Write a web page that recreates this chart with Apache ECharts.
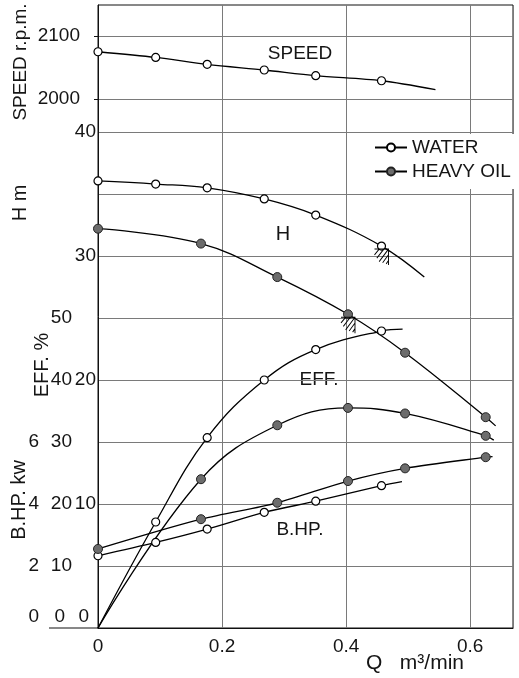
<!DOCTYPE html>
<html>
<head>
<meta charset="utf-8">
<script src="https://cdn.jsdelivr.net/npm/echarts@6/dist/echarts.min.js"></script>
<style>
html,body{margin:0;padding:0;background:#fff;}
#chart{width:519px;height:678px;}
</style>
</head>
<body>
<div id="chart"></div>
<script>
// ---- data ----
const qWater = [0, 0.093, 0.176, 0.268, 0.351, 0.457];
const qOil = [0, 0.166, 0.289, 0.403, 0.495, 0.625];

const speedWater = [2075, 2066, 2055, 2046, 2037, 2029];
const speedWaterTail = [0.544, 2015];

const hWater = [36.05, 35.8, 35.5, 34.6, 33.3, 30.8];
const hWaterTail = [0.526, 28.3];
const hOil = [32.2, 31.0, 28.3, 25.3, 22.2, 17.0];
const hOilTail = [0.641, 16.3];

const effWater = [0, 17.1, 30.7, 40.0, 44.9, 47.9];   // first value = origin, no marker
const effWaterTail = [0.491, 48.2];
const effOil = [0, 24.0, 32.7, 35.5, 34.6, 31.0];     // first value = origin, no marker
const effOilTail = [0.638, 30.3];

const bhpWater = [2.33, 2.76, 3.19, 3.73, 4.09, 4.59];
const bhpWaterTail = [0.49, 4.72];
const bhpOil = [2.55, 3.51, 4.04, 4.74, 5.15, 5.51];
const bhpOilTail = [0.636, 5.53];

const xTicks = [0, 0.2, 0.4, 0.6];
const hTicks = [0, 10, 20, 30, 40];
const hGridLines = [30, 35, 40];
const effTicks = [0, 10, 20, 30, 40, 50];
const bhpTicks = [0, 2, 4, 6];
const speedTicks = [2000, 2100];
const seriesNames = ['WATER', 'HEAVY OIL'];

// ---- layout / style ----
const FONT = "'Liberation Sans', Arial, sans-serif";
const TXT = '#151515';
const GRIDC = '#7a7a7a';
const X_MAX = 0.669;
const H_MAX = 50.24;

function build(qs, vals, tail, hideFirst) {
  const d = qs.map((q, i) => {
    const it = { value: [q, vals[i]] };
    if (hideFirst && i === 0) it.symbol = 'none';
    return it;
  });
  if (tail) d.push({ value: tail, symbol: 'none' });
  return d;
}

const waterStyle = {
  symbol: 'circle', symbolSize: 8,
  itemStyle: { color: '#fff', borderColor: '#000', borderWidth: 1.2 },
  lineStyle: { color: '#000', width: 1.3 }
};
const oilStyle = {
  symbol: 'circle', symbolSize: 9,
  itemStyle: { color: '#6c6c6c', borderColor: '#222', borderWidth: 1 },
  lineStyle: { color: '#000', width: 1.3 }
};

const hatch = 'path://M0,0 L12,0 L12,14 M4,0 L0,5 M8,0 L2,8 M12,0 L4,11 M12,5 L7,12 M12,10 L10,13';
function hatchMark(q, v) {
  return {
    symbol: hatch, symbolSize: [14, 16], symbolOffset: [0, 11], silent: true,
    itemStyle: { color: 'none', borderColor: '#000', borderWidth: 1 },
    label: { show: false },
    data: [{ coord: [q, v] }]
  };
}

function hiddenX(gi) {
  return { type: 'value', gridIndex: gi, min: 0, max: X_MAX, show: false };
}
function tickFmt(list, zeroUp) {
  return v => {
    if (!list.some(t => Math.abs(t - v) < 1e-9)) return '';
    if (zeroUp && Math.abs(v) < 1e-9) return '{z|0}';
    return String(v);
  };
}
function zeroRich(padRight) {
  return { z: { fontFamily: FONT, fontSize: 19, color: TXT, padding: [0, padRight, 22, 0] } };
}

const grids = [
  { left: 98, right: 6, top: 5, bottom: 50, show: true, borderColor: '#111', borderWidth: 1 },
  { left: 98, right: 6, top: 318, bottom: 50 },
  { left: 98, right: 6, top: 442, bottom: 50 },
  { left: 98, right: 6, top: 36, bottom: 579 },
  { left: 98, right: 6, top: 132, bottom: 422 }
].map(g => Object.assign({ outerBoundsMode: 'none', containLabel: false }, g));

const labelStyle = { color: TXT, fontFamily: FONT, fontSize: 19 };
const titleFont = '19px ' + FONT;

const option = {
  animation: false,
  backgroundColor: '#fff',
  textStyle: { fontFamily: FONT },
  grid: grids,
  legend: {
    orient: 'vertical', left: 366, top: 134,
    padding: [4, 6, 8, 8], itemGap: 5,
    itemWidth: 32, itemHeight: 10,
    backgroundColor: '#fff',
    data: seriesNames,
    textStyle: { color: TXT, fontFamily: FONT, fontSize: 19, lineHeight: 19 },
    selectedMode: false
  },
  xAxis: [
    {
      type: 'value', gridIndex: 0, min: 0, max: X_MAX, interval: 0.2,
      axisLine: { lineStyle: { color: '#111', width: 1 } },
      axisTick: { show: false },
      axisLabel: Object.assign({ margin: 9, showMaxLabel: false, formatter: tickFmt(xTicks, false) }, labelStyle),
      splitLine: { show: true, lineStyle: { color: GRIDC, width: 1 } }
    },
    hiddenX(1), hiddenX(2), hiddenX(3), hiddenX(4)
  ],
  yAxis: [
    { // H m (plot left edge)
      type: 'value', gridIndex: 0, min: 0, max: H_MAX, interval: 10,
      axisLine: { show: true, lineStyle: { color: '#111', width: 1 } },
      axisTick: { show: false },
      axisLabel: Object.assign({ margin: 2, showMaxLabel: false, formatter: tickFmt(hTicks, true), rich: zeroRich(7) }, labelStyle),
      splitLine: { show: false }
    },
    { // EFF %
      type: 'value', gridIndex: 1, min: 0, max: 50, interval: 10, offset: 23,
      axisLine: { show: true, lineStyle: { color: '#111', width: 1 } },
      axisTick: { show: false },
      axisLabel: Object.assign({ margin: 3, formatter: tickFmt(effTicks, true), rich: zeroRich(7) }, labelStyle),
      splitLine: { show: true, lineStyle: { color: GRIDC, width: 1 } }
    },
    { // B.HP kw
      type: 'value', gridIndex: 2, min: 0, max: 6, interval: 2, offset: 49,
      axisLine: { show: true, lineStyle: { color: '#111', width: 1 } },
      axisTick: { show: false },
      axisLabel: Object.assign({ margin: 10, formatter: tickFmt(bhpTicks, true), rich: zeroRich(0) }, labelStyle),
      splitLine: { show: false }
    },
    { // SPEED rpm
      type: 'value', gridIndex: 3, min: 2000, max: 2100, interval: 100, offset: 13,
      axisLine: { show: true, lineStyle: { color: '#111', width: 1 } },
      axisTick: { show: true, length: 4, lineStyle: { color: '#111' } },
      axisLabel: Object.assign({ margin: 5, formatter: tickFmt(speedTicks, false) }, labelStyle),
      splitLine: { show: true, lineStyle: { color: GRIDC, width: 1 } }
    },
    { // upper H grid lines
      type: 'value', gridIndex: 4, min: hGridLines[0], max: hGridLines[hGridLines.length - 1], interval: 5,
      axisLine: { show: false }, axisTick: { show: false }, axisLabel: { show: false },
      splitLine: { show: true, lineStyle: { color: GRIDC, width: 1 } }
    }
  ],
  graphic: [
    { type: 'line', shape: { x1: 49, y1: 628, x2: 98, y2: 628 }, style: { stroke: '#111', lineWidth: 1 } },
    { type: 'text', x: 21, y: 62, rotation: Math.PI / 2, style: { text: 'SPEED r.p.m.', font: titleFont, fill: TXT, align: 'center', verticalAlign: 'middle' } },
    { type: 'text', x: 20, y: 203, rotation: Math.PI / 2, style: { text: 'H m', font: '20px ' + FONT, fill: TXT, align: 'center', verticalAlign: 'middle' } },
    { type: 'text', x: 42, y: 365, rotation: Math.PI / 2, style: { text: 'EFF. %', font: '20px ' + FONT, fill: TXT, align: 'center', verticalAlign: 'middle' } },
    { type: 'text', x: 19, y: 500, rotation: Math.PI / 2, style: { text: 'B.HP. kw', font: '20px ' + FONT, fill: TXT, align: 'center', verticalAlign: 'middle' } },
    { type: 'text', x: 300, y: 54, style: { text: 'SPEED', font: '19px ' + FONT, fill: TXT, align: 'center', verticalAlign: 'middle' } },
    { type: 'text', x: 283, y: 234, style: { text: 'H', font: '20px ' + FONT, fill: TXT, align: 'center', verticalAlign: 'middle' } },
    { type: 'text', x: 319, y: 380, style: { text: 'EFF.', font: '19px ' + FONT, fill: TXT, align: 'center', verticalAlign: 'middle' } },
    { type: 'text', x: 300, y: 530, style: { text: 'B.HP.', font: '19px ' + FONT, fill: TXT, align: 'center', verticalAlign: 'middle' } },
    { type: 'text', x: 415, y: 663, style: { text: 'Q   m³/min', font: '21px ' + FONT, fill: TXT, align: 'center', verticalAlign: 'middle' } }
  ],
  series: [
    Object.assign({ name: seriesNames[0], type: 'line', xAxisIndex: 3, yAxisIndex: 3, smooth: 0.3,
      data: build(qWater, speedWater, speedWaterTail, false) }, waterStyle),
    Object.assign({ name: seriesNames[0], type: 'line', xAxisIndex: 0, yAxisIndex: 0, smooth: 0.4,
      data: build(qWater, hWater, hWaterTail, false), markPoint: hatchMark(qWater[5], hWater[5]) }, waterStyle),
    Object.assign({ name: seriesNames[1], type: 'line', xAxisIndex: 0, yAxisIndex: 0, smooth: 0.4,
      data: build(qOil, hOil, hOilTail, false), markPoint: hatchMark(qOil[3], hOil[3]) }, oilStyle),
    Object.assign({ name: seriesNames[0], type: 'line', xAxisIndex: 1, yAxisIndex: 1, smooth: 0.4,
      data: build(qWater, effWater, effWaterTail, true) }, waterStyle),
    Object.assign({ name: seriesNames[1], type: 'line', xAxisIndex: 1, yAxisIndex: 1, smooth: 0.4,
      data: build(qOil, effOil, effOilTail, true) }, oilStyle),
    Object.assign({ name: seriesNames[0], type: 'line', xAxisIndex: 2, yAxisIndex: 2, smooth: 0.3,
      data: build(qWater, bhpWater, bhpWaterTail, false) }, waterStyle),
    Object.assign({ name: seriesNames[1], type: 'line', xAxisIndex: 2, yAxisIndex: 2, smooth: 0.3,
      data: build(qOil, bhpOil, bhpOilTail, false) }, oilStyle)
  ]
};

const chart = echarts.init(document.getElementById('chart'), null, { renderer: 'canvas' });
chart.setOption(option);
</script>
</body>
</html>
